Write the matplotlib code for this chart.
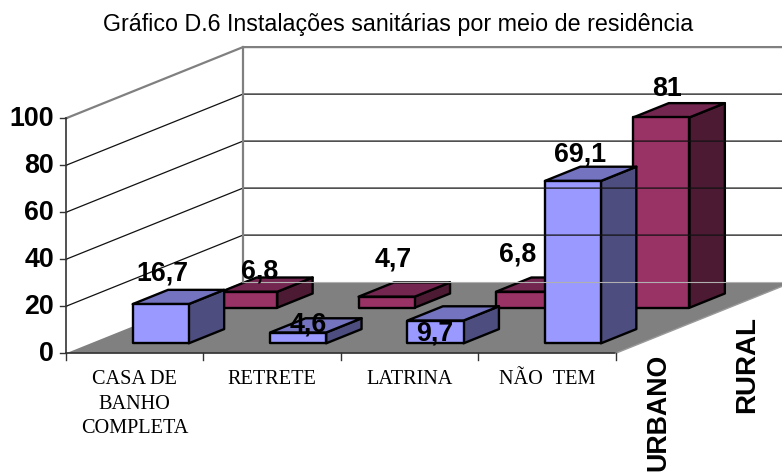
import matplotlib
matplotlib.use('Agg')
import matplotlib.pyplot as plt
from matplotlib.patches import Polygon

categories = ['CASA DE\nBANHO\nCOMPLETA', 'RETRETE', 'LATRINA', 'NÃO  TEM']
series_names = ['URBANO', 'RURAL']
urbano = [16.7, 4.6, 9.7, 69.1]
rural = [6.8, 4.7, 6.8, 81]
y_ticks = [0, 20, 40, 60, 80, 100]

# oblique projection, in image pixels
X0, Y0 = 66, 353.3
SLOT_W = 137.4
PX_PER_UNIT = 2.35
DEPTH_X, DEPTH_Y = 88.5, -35.6


def project(cat, depth, value):
    """category slot, series depth and value to a point on the picture"""
    return (X0 + cat * SLOT_W + depth * DEPTH_X,
            Y0 + depth * DEPTH_Y - value * PX_PER_UNIT)


def draw_bar(ax, cat, series, value, colors):
    x0, x1 = cat + 0.305, cat + 0.713
    d0, d1 = series + 0.28, series + 0.68
    front = [project(x0, d0, 0), project(x1, d0, 0), project(x1, d0, value), project(x0, d0, value)]
    side = [project(x1, d0, 0), project(x1, d1, 0), project(x1, d1, value), project(x1, d0, value)]
    top = [project(x0, d0, value), project(x1, d0, value), project(x1, d1, value), project(x0, d1, value)]
    for pts, col in zip([side, top, front], colors):
        ax.add_patch(Polygon(pts, closed=True, facecolor=col, edgecolor='black',
                             linewidth=1.7, joinstyle='round'))


fig = plt.figure(figsize=(7.82, 4.75), dpi=100)
ax = fig.add_axes([0, 0, 1, 1])
ax.set_xlim(0, 782)
ax.set_ylim(475, 0)
ax.axis('off')

plt.rcParams['font.family'] = ['Liberation Sans', 'DejaVu Sans']

n_cat = len(categories)

# floor
ax.add_patch(Polygon([project(0, 0, 0), project(n_cat, 0, 0), project(n_cat, 2, 0), project(0, 2, 0)],
                     closed=True, facecolor='#808080', edgecolor='none'))
ax.plot(*zip(project(0, 2, 0), project(n_cat, 2, 0)), color='#b0b0b0', lw=0.8)

# gridlines on the two walls
for v in y_ticks[:-1]:
    if v > 0:
        ax.plot(*zip(project(0, 0, v), project(0, 2, v), project(n_cat, 2, v)), color='#111111', lw=0.9)

# wall border
ax.plot(*zip(project(0, 0, 100), project(0, 2, 100), project(n_cat, 2, 100)), color='#808080', lw=1.6)
ax.plot(*zip(project(0, 2, 0), project(0, 2, 100)), color='#808080', lw=1.6)

# axis lines and ticks
ax.plot(*zip(project(0, 0, 0), project(0, 0, 100)), color='#333333', lw=1.2)
ax.plot(*zip(project(0, 0, 0), project(n_cat, 0, 0)), color='#333333', lw=1.2)
ax.plot(*zip(project(n_cat, 0, 0), project(n_cat, 2, 0)), color='#999999', lw=1)
for v in y_ticks:
    px, py = project(0, 0, v)
    ax.plot([px - 6, px], [py, py], color='#333333', lw=1)
    ax.text(px - 12, py + 1, str(v), ha='right', va='center', fontsize=19.3, fontweight='bold',
            family='Liberation Sans')
for c in range(n_cat + 1):
    px, py = project(c, 0, 0)
    ax.plot([px, px], [py, py + 7], color='#333333', lw=1)

# bars, back row first
rural_colors = ['#4D1A33', '#732650', '#993366']
urbano_colors = ['#4D4D80', '#7373BF', '#9999FF']
for c in range(n_cat):
    draw_bar(ax, c, 1, rural[c], rural_colors)
for c in range(n_cat):
    draw_bar(ax, c, 0, urbano[c], urbano_colors)

# data labels were moved by hand in the original, so each has its own offset
urbano_offsets = [(2, -31), (10, -8), (-1, 13), (7, -26)]
rural_offsets = [(10, -20), (7, -37), (-6, -37), (6, -28)]
for values, series, offsets in [(urbano, 0, urbano_offsets), (rural, 1, rural_offsets)]:
    for c, v in enumerate(values):
        px, py = project(c + 0.509, series + 0.28, v)
        dx, dy = offsets[c]
        ax.text(px + dx, py + dy, f'{v:g}'.replace('.', ','), ha='center', va='center',
                fontsize=19.3, fontweight='bold', family='Liberation Sans')

# category labels
for c, name in enumerate(categories):
    px, py = project(c + 0.5, 0, 0)
    ax.text(px, py + 17, name, ha='center', va='top', fontsize=14.6,
            family='Liberation Serif', linespacing=1.39)

# series labels
ax.text(658, 354, series_names[0], rotation=90, ha='center', va='top', fontsize=19.3,
        fontweight='bold', family='Liberation Sans')
ax.text(747, 316, series_names[1], rotation=90, ha='center', va='top', fontsize=20,
        fontweight='bold', family='Liberation Sans')

ax.text(398, 24, 'Gráfico D.6 Instalações sanitárias por meio de residência', ha='center', va='center',
        fontsize=16.75, family='Liberation Sans')

fig.savefig('out.png', dpi=100)
